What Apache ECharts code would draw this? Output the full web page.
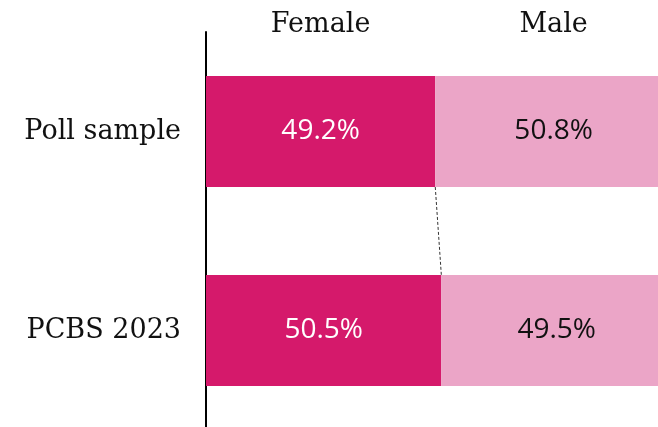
<!DOCTYPE html>
<html>
<head>
<meta charset="utf-8">
<script src="https://cdn.jsdelivr.net/npm/echarts@6/dist/echarts.min.js"></script>
<style>
  html, body { margin: 0; padding: 0; overflow: hidden; background: #fff; }
  #chart { width: 672px; height: 430px; }
</style>
</head>
<body>
<div id="chart"></div>
<script>
const categories = ['Poll sample', 'PCBS 2023'];
const female = [49.2, 50.5];
const male = [50.8, 49.5];
const seriesNames = ['Female', 'Male'];

const chart = echarts.init(document.getElementById('chart'));
const serif = "'DejaVu Serif', serif";
const sans = "'Open Sans', sans-serif";

const option = {
  animation: false,
  grid: { left: 206, right: 0, top: 32, bottom: 0 },
  xAxis: {
    type: 'value', min: 0, max: 100,
    show: false
  },
  yAxis: {
    type: 'category',
    data: categories,
    inverse: true,
    axisLine: { show: true, lineStyle: { color: '#000', width: 2 } },
    axisTick: { show: false },
    axisLabel: { fontFamily: serif, fontSize: 27, color: '#111', margin: 25 }
  },
  series: [
    {
      name: seriesNames[0], type: 'bar', stack: 'g', barWidth: 111,
      itemStyle: { color: '#d5196b' },
      label: { show: true, position: 'inside', fontFamily: sans, fontSize: 28, color: '#fff',
        formatter: p => p.value.toFixed(1) + '%' },
      data: female
    },
    {
      name: seriesNames[1], type: 'bar', stack: 'g', barWidth: 111,
      itemStyle: { color: '#eba5c7' },
      label: { show: true, position: 'inside', fontFamily: sans, fontSize: 28, color: '#111',
        formatter: p => p.value.toFixed(1) + '%' },
      data: male
    }
  ]
};
chart.setOption(option);

// headers over the top bar and dashed connector between female edges
const half = 111 / 2;
const p0 = chart.convertToPixel({ gridIndex: 0 }, [0, 0]);
const pf0 = chart.convertToPixel({ gridIndex: 0 }, [female[0], 0]);
const pe0 = chart.convertToPixel({ gridIndex: 0 }, [100, 0]);
const pf1 = chart.convertToPixel({ gridIndex: 0 }, [female[1], 1]);
chart.setOption({
  graphic: [
    { type: 'text', x: (p0[0] + pf0[0]) / 2, y: 25,
      style: { text: seriesNames[0], font: "27px " + serif, fill: '#111', align: 'center', verticalAlign: 'middle' } },
    { type: 'text', x: (pf0[0] + pe0[0]) / 2, y: 25,
      style: { text: seriesNames[1], font: "27px " + serif, fill: '#111', align: 'center', verticalAlign: 'middle' } },
    { type: 'line', shape: { x1: pf0[0], y1: pf0[1] + half, x2: pf1[0], y2: pf1[1] - half },
      style: { stroke: '#333', lineWidth: 1, lineDash: [3, 2] } }
  ]
});
</script>
</body>
</html>
